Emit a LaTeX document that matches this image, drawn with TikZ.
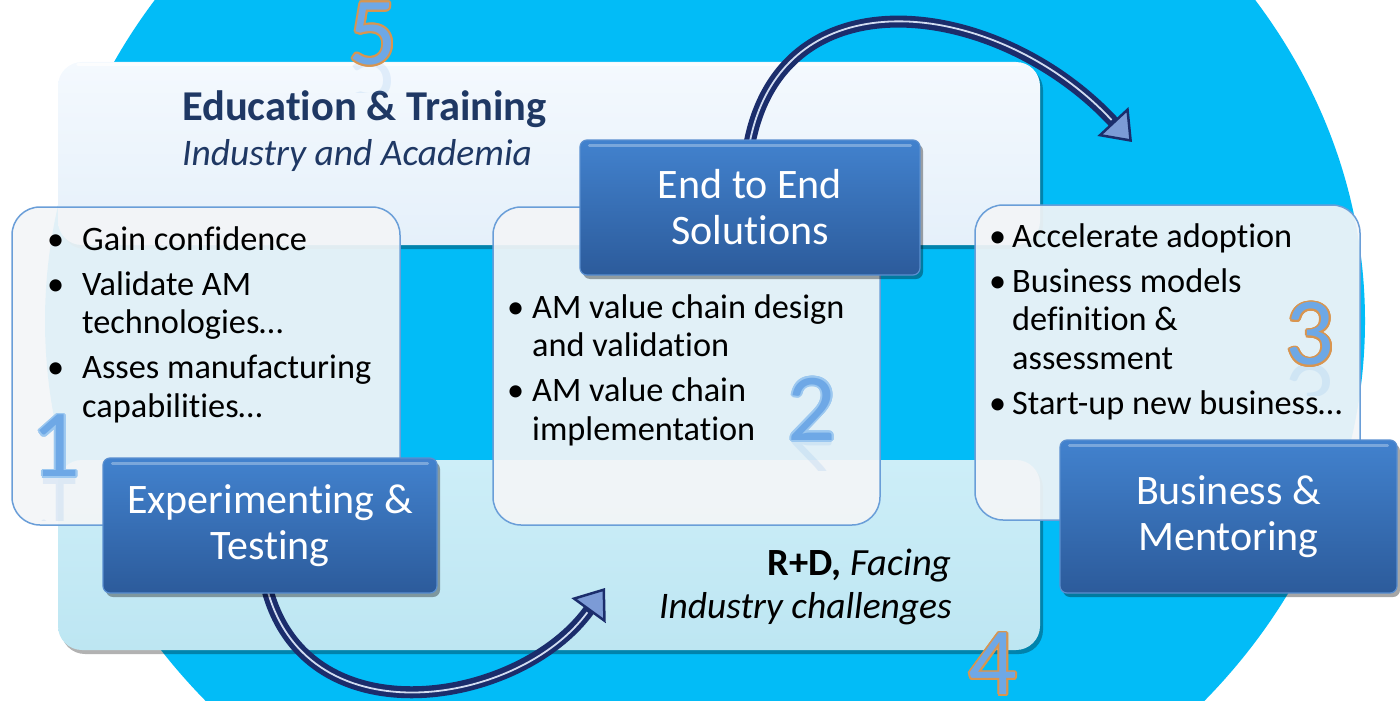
\documentclass[tikz,border=0pt]{standalone}
\usepackage{fontspec}
\setmainfont{Carlito}[Ligatures=NoCommon]
\usepackage{contour}
\contourlength{1.8pt}
\usetikzlibrary{shadows,arrows.meta,calc}
\definecolor{cyanbg}{HTML}{02BCF7}
\definecolor{fivetop}{HTML}{F4F9FE}
\definecolor{fivebot}{HTML}{E5F0FA}
\definecolor{fourtop}{HTML}{CDEEF8}
\definecolor{fourbot}{HTML}{BDE6F2}
\definecolor{panelfill}{HTML}{F3F5F7}
\definecolor{panelborder}{HTML}{6A9ED8}
\definecolor{dtop}{HTML}{4282CE}
\definecolor{dbot}{HTML}{2C5B9B}
\definecolor{dborder}{HTML}{5A8FD0}
\definecolor{navytext}{HTML}{1F3864}
\definecolor{arrownavy}{HTML}{1B2D6C}
\definecolor{arrowfill}{HTML}{7C9BD6}
\definecolor{dblue}{HTML}{6EA8E6}
\definecolor{dorange}{HTML}{D9954F}
\definecolor{dlight}{HTML}{9CC8F0}
\newlength{\bulw}
\newcommand{\bpt}[1]{\par\noindent\hangindent=\bulw\hangafter=1\makebox[\bulw][l]{\textbullet}#1}
\begin{document}
\begin{tikzpicture}[x=1pt,y=-1pt,
  bigbox/.style={rounded corners=24pt, draw=none, inner sep=0pt,
    drop shadow={shadow xshift=3pt, shadow yshift=-4pt, opacity=0.3, fill=black}},
  panel/.style={rounded corners=28pt, draw=panelborder, line width=1.5pt,
    fill=panelfill, fill opacity=0.93, draw opacity=1, inner sep=0pt},
  darkbox/.style={rounded corners=7pt, draw=dborder, line width=1.2pt,
    top color=dtop, bottom color=dbot, text=white, align=center,
    font=\fontsize{42}{46}\selectfont, inner sep=0pt,
    drop shadow={shadow xshift=3pt, shadow yshift=-4pt, opacity=0.35, fill=black}},
  blist/.style={anchor=base west, inner sep=0pt, font=\fontsize{34.3}{38.5}\selectfont},
  digit/.style={inner sep=0pt, font=\fontsize{96}{96}\selectfont, text=dblue},
  arrowline/.style={draw=arrownavy, line width=12pt},
  arrowstripe/.style={draw=white!65!arrowfill, line width=1.8pt},
  arrowtip/.style={-{Triangle[width=42pt,length=28pt,line width=2.5pt,fill=arrowfill]}},
  gloss/.style={draw=white, opacity=0.3, line width=3pt, line cap=round}
]
\useasboundingbox (0,0) rectangle (1400,701);
\begin{scope}
\clip (0,0) rectangle (1400,701);
\fill[cyanbg] (705,321) ellipse [x radius=660pt, y radius=581pt];

% large background boxes
\node[bigbox, top color=fivetop, bottom color=fivebot, minimum width=982pt, minimum height=183pt] (b5) at (549,153.5) {};
\node[bigbox, top color=fourtop, bottom color=fourbot, minimum width=982pt, minimum height=190pt] (b4) at (549,555) {};
\draw[gloss, opacity=0.8] ([xshift=20pt,yshift=-3pt]b5.north west) -- ([xshift=-20pt,yshift=-3pt]b5.north east);

% translucent panels
\node[panel, minimum width=388pt, minimum height=318pt] (p1) at (206,366) {};
\node[panel, minimum width=387pt, minimum height=318pt] (p2) at (686.5,366) {};
\node[panel, minimum width=385pt, minimum height=315pt] (p3) at (1167.5,362.5) {};

% titles
\node[anchor=base west, inner sep=0pt, text=navytext, font=\fontsize{42.5}{46}\selectfont\bfseries] (t5) at (182,120) {Education \& Training};
\node[anchor=base west, inner sep=0pt, text=navytext, font=\fontsize{37.5}{44}\selectfont\itshape] (t5b) at (182,165) {Industry and Academia};
\node[anchor=base east, inner sep=0pt, font=\fontsize{38.5}{44}\selectfont] (t4) at (952,575) {\textbf{R+D,} \textit{Facing}};
\node[anchor=base east, inner sep=0pt, font=\fontsize{37.5}{44}\selectfont\itshape] (t4b) at (952,618) {Industry challenges};

% bullet lists
\node[blist] (l1) at (47,250) {\begin{minipage}[t]{360pt}\setlength{\bulw}{35pt}\setlength{\parskip}{6.5pt}%
\bpt{Gain confidence}\bpt{Validate AM\\technologies…}\bpt{Asses manufacturing\\capabilities…}\end{minipage}};
\node[blist] (l2) at (507,318) {\begin{minipage}[t]{360pt}\setlength{\bulw}{25pt}\setlength{\parskip}{6.5pt}%
\bpt{AM value chain design\\and validation}\bpt{AM value chain\\implementation}\end{minipage}};
\node[blist] (l3) at (989,247) {\begin{minipage}[t]{370pt}\setlength{\bulw}{23pt}\setlength{\parskip}{6.5pt}%
\bpt{Accelerate adoption}\bpt{Business models\\definition \&\\assessment}\bpt{Start-up new business…}\end{minipage}};

% named arrow ends
\coordinate (a1) at (1132,142);
\coordinate (a2) at (605,588);
\coordinate (e2etop) at (750,141);
\coordinate (exbot) at (268,592);

% curved arrows
\draw[arrowline, arrowtip] (e2etop) .. controls (785,-30) and (1000,0) .. (a1);
\draw[arrowstripe, shorten >=30pt] (e2etop) .. controls (785,-30) and (1000,0) .. (a1);
\draw[arrowline, arrowtip] (exbot) .. controls (310,740) and (520,705) .. (a2);
\draw[arrowstripe, shorten >=30pt] (exbot) .. controls (310,740) and (520,705) .. (a2);

% dark label boxes
\node[darkbox, minimum width=334pt, minimum height=135pt] (exp) at (270,525.5) {Experimenting \&\\Testing};
\node[darkbox, minimum width=340pt, minimum height=135pt] (e2e) at (750,207.5) {End to End\\Solutions};
\node[darkbox, minimum width=337pt, minimum height=153pt] (biz) at (1228.5,516.5) {Business \&\\Mentoring};
\foreach \b in {exp,e2e,biz}{
  \draw[gloss] ([xshift=10pt,yshift=-6pt]\b.north west) -- ([xshift=-10pt,yshift=-6pt]\b.north east);
}

% reflections of the digits
\begin{scope}\clip (330,63) rectangle (420,92);
\begin{scope}[shift={(373,91)}, yscale=-1]\node[digit, transform shape, opacity=0.15] at (0,0) {5};\end{scope}\end{scope}
\begin{scope}\clip (30,478) rectangle (85,520);
\begin{scope}[shift={(56,509)}, yscale=-1]\node[digit, transform shape, opacity=0.15] at (0,0) {1};\end{scope}\end{scope}
\begin{scope}\clip (785,440) rectangle (840,470);
\begin{scope}[shift={(812,470)}, yscale=-1]\node[digit, transform shape, opacity=0.15] at (0,0) {2};\end{scope}\end{scope}
\begin{scope}\clip (1285,365) rectangle (1340,395);
\begin{scope}[shift={(1310,395)}, yscale=-1]\node[digit, transform shape, opacity=0.15] at (0,0) {3};\end{scope}\end{scope}

% digits
\node[digit] (n5) at (373,35) {\contour{dorange}{5}};
\node[digit] (n1) at (56,447) {\contour{dlight}{1}};
\node[digit] (n2) at (812,410) {\contour{dlight}{2}};
\node[digit] (n3) at (1310,335) {\contour{dorange}{3}};
\node[digit] (n4) at (993,665) {\contour{dorange}{4}};
\end{scope}
\end{tikzpicture}
\end{document}
